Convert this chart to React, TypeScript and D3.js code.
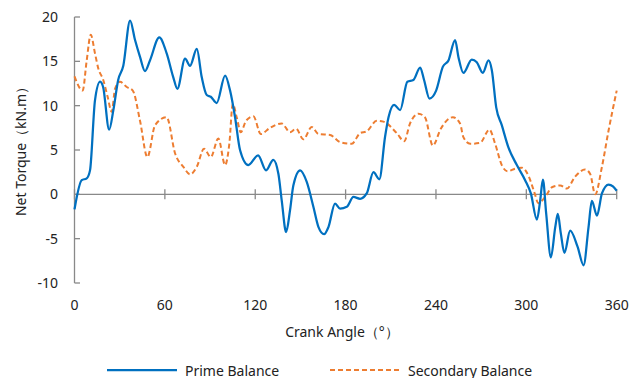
import React from "react";
import * as d3 from "d3";

const xTicks = [0, 60, 120, 180, 240, 300, 360];
const yTicks = [-10, -5, 0, 5, 10, 15, 20];

const primeAngle = [0, 4.8, 8.1, 10.3, 13.6, 17, 19, 23, 25.8, 29, 32.4, 36.9, 40.2, 43.5, 46.8, 50.1, 56.3, 61.2, 65.6, 68.3, 73.4, 76.7, 81.2, 84.5, 87.8, 90.5, 94.4, 100, 103.3, 106.6, 109.9, 115.4, 121.9, 127.2, 132, 135.4, 137.6, 140.5, 143.1, 145.3, 149.8, 154.2, 158.6, 162, 165.7, 168.6, 173, 176.3, 180.8, 185.2, 189.6, 194, 198.5, 202.4, 206.2, 208.5, 212.2, 216.2, 221, 225, 229.5, 232.1, 235.7, 240.1, 244.6, 248.3, 252.7, 254.9, 258.2, 263.8, 267.1, 271.1, 274.9, 277.1, 280, 283.7, 288.1, 293.7, 299.2, 303, 307, 309.2, 311, 313.2, 316.3, 319.2, 320.9, 322.9, 325.3, 329.1, 334, 338, 341.3, 343.5, 346.9, 350.2, 354.6, 357.5, 360];
const primeTorque = [-1.7, 1.6, 1.8, 2.7, 10.6, 12.7, 12.1, 7.3, 9.5, 12.9, 14.5, 19.6, 17.4, 15.5, 13.9, 15.1, 17.7, 15.9, 13.2, 11.9, 15.3, 14.5, 16.4, 13.2, 11.2, 11.0, 10.3, 13.4, 11.7, 8.7, 5.0, 3.3, 4.4, 2.7, 3.9, 2.3, -0.7, -4.25, -1.8, 1.0, 2.7, 1.4, -1.4, -3.7, -4.5, -3.7, -1.05, -1.6, -1.4, -0.3, -0.5, 0.1, 2.5, 1.7, 6.5, 8.7, 10.1, 9.5, 12.7, 12.9, 14.3, 12.9, 10.8, 11.7, 14.4, 15.1, 17.4, 15.5, 13.7, 15.2, 14.9, 13.7, 15.1, 14.0, 9.8, 7.8, 5.3, 3.3, 1.6, 0.1, -2.85, -0.7, 1.65, -2.2, -7.1, -3.7, -2.2, -4.4, -6.6, -4.1, -5.9, -8.0, -3.7, -0.75, -2.4, 0.1, 1.1, 0.9, 0.4];

const secAngle = [0, 5.4, 8.1, 10.8, 13.6, 15.8, 19.1, 22, 24.7, 26.9, 30.2, 34.7, 38.7, 43.5, 48.4, 53.5, 61.2, 66.8, 72.3, 76.7, 81.2, 86, 90.5, 95.5, 100, 102.8, 105.1, 107.7, 110.4, 113.9, 118.8, 123.7, 129.8, 137.6, 143.1, 147.1, 152, 157.5, 162, 169.7, 176.3, 184.1, 189.6, 194, 200.7, 205.1, 214, 218.9, 222.8, 228.4, 232.8, 237.9, 243.2, 251.2, 256, 258.2, 262.7, 269.3, 275.5, 279.3, 283.7, 287.5, 292.6, 297, 301.4, 305.2, 308, 312.5, 317, 322.5, 326.9, 332.4, 339, 342.4, 345.7, 350.2, 354.6, 360];
const secTorque = [13.3, 11.7, 15.1, 18.0, 15.9, 14.2, 12.9, 11.0, 9.3, 11.9, 12.7, 12.1, 11.7, 8.3, 4.2, 7.8, 8.7, 4.6, 3.1, 2.25, 3.1, 5.15, 4.2, 6.3, 3.3, 5.7, 10.2, 8.7, 7.0, 8.3, 8.8, 6.8, 7.5, 8.0, 7.0, 7.4, 6.2, 7.6, 6.8, 6.7, 5.9, 5.7, 6.9, 7.1, 8.3, 8.2, 6.9, 6.0, 8.0, 9.1, 8.65, 5.5, 7.4, 8.7, 8.0, 6.45, 5.7, 5.8, 7.3, 5.7, 3.3, 2.6, 2.9, 3.0, 2.1, 0.3, -1.0, -0.3, 0.8, 1.0, 0.65, 2.0, 2.8, 2.3, 0, 3.1, 7.2, 11.7];

const W = 641;
const H = 378;
const FONT = "'Noto Sans', 'Open Sans', sans-serif";
const AXIS = "#898989";

export default function App() {
  const x = d3.scaleLinear().domain([0, 360]).range([74.5, 616.7]);
  const y = d3.scaleLinear().domain([-10, 20]).range([283, 17]);

  const line = d3
    .line<[number, number]>()
    .x((d) => x(d[0]))
    .y((d) => y(d[1]))
    .curve(d3.curveMonotoneX);

  const prime: [number, number][] = primeAngle.map((a, i) => [a, primeTorque[i]]);
  const sec: [number, number][] = secAngle.map((a, i) => [a, secTorque[i]]);

  return (
    <svg
      width={W}
      height={H}
      style={{ position: "absolute", left: 0, top: 0, background: "#fff" }}
      fontFamily={FONT}
    >
      {/* y axis */}
      <line x1={x(0)} x2={x(0)} y1={y(20)} y2={y(-10)} stroke={AXIS} strokeWidth={1.3} />
      {yTicks.map((t) => (
        <g key={"y" + t}>
          <line x1={x(0)} x2={x(0) + 5.5} y1={y(t)} y2={y(t)} stroke={AXIS} strokeWidth={1.3} />
          <text x={58} y={y(t)} dy="0.35em" textAnchor="end" fontSize={14} fill="#222">
            {t}
          </text>
        </g>
      ))}
      {/* x axis at zero */}
      <line x1={x(0)} x2={x(360)} y1={y(0)} y2={y(0)} stroke={AXIS} strokeWidth={1.3} />
      {xTicks.map((t) => (
        <g key={"x" + t}>
          <line x1={x(t)} x2={x(t)} y1={y(0) - 5} y2={y(0) + 5} stroke={AXIS} strokeWidth={1.3} />
          <text x={x(t)} y={305} dy="0.35em" textAnchor="middle" fontSize={14} fill="#222">
            {t}
          </text>
        </g>
      ))}

      <path d={line(sec) || ""} fill="none" stroke="#ED7D31" strokeWidth={2} strokeDasharray="5,3" />
      <path d={line(prime) || ""} fill="none" stroke="#0070C0" strokeWidth={2.25} />

      {/* axis titles */}
      <text x={342} y={332} dy="0.35em" textAnchor="middle" fontSize={14} fill="#222">
        Crank Angle（°）
      </text>
      <text
        transform={`translate(21,148) rotate(-90)`}
        dy="0.35em"
        textAnchor="middle"
        fontSize={14}
        fill="#222"
      >
        Net Torque（kN.m）
      </text>

      {/* legend */}
      <line x1={107} x2={177} y1={370} y2={370} stroke="#0070C0" strokeWidth={2.25} />
      <text x={185} y={371} dy="0.35em" fontSize={14} fill="#222">
        Prime Balance
      </text>
      <line x1={330} x2={400} y1={370} y2={370} stroke="#ED7D31" strokeWidth={2} strokeDasharray="5,3" />
      <text x={408} y={371} dy="0.35em" fontSize={14} fill="#222">
        Secondary Balance
      </text>
    </svg>
  );
}
